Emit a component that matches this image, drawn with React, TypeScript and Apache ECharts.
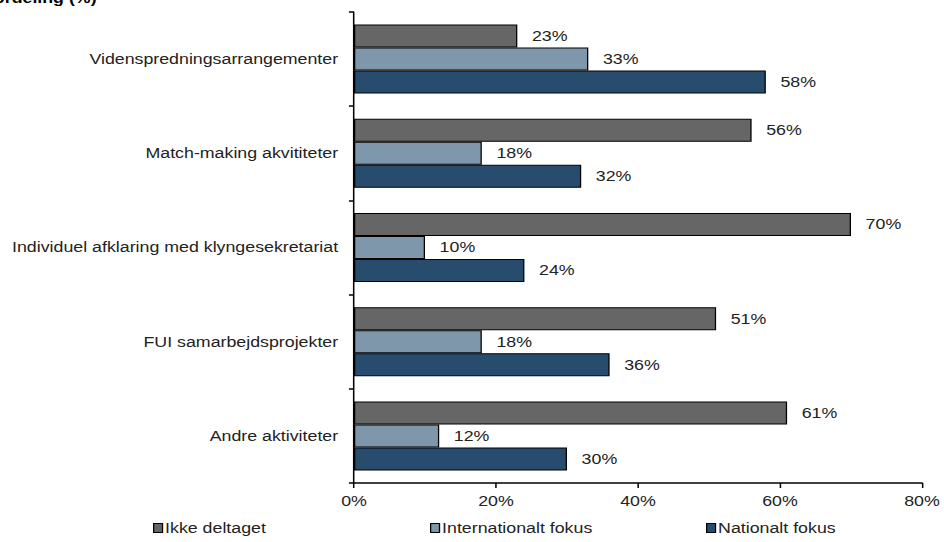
import React, { useEffect, useRef } from "react";
import * as echarts from "echarts";

const categories = [
  "Videnspredningsarrangementer",
  "Match-making akvititeter",
  "Individuel afklaring med klyngesekretariat",
  "FUI samarbejdsprojekter",
  "Andre aktiviteter",
];
const seriesNames = ["Ikke deltaget", "Internationalt fokus", "Nationalt fokus"];
const ikkeDeltaget = [23, 56, 70, 51, 61];
const internationaltFokus = [33, 18, 10, 18, 12];
const nationaltFokus = [58, 32, 24, 36, 30];
const xTicks = [0, 20, 40, 60, 80];
const colors = ["#666666", "#7F97AB", "#284C6E"];

// The reference is horizontally stretched; draw narrower and stretch.
const SX = 1.27;
const W = 944 / SX;

export default function App() {
  const ref = useRef<HTMLDivElement>(null);
  useEffect(() => {
    if (!ref.current) return;
    const chart = echarts.init(ref.current, null, { renderer: "svg" });
    const font = "Liberation Sans, Arial, sans-serif";
    const data = [ikkeDeltaget, internationaltFokus, nationaltFokus];
    const legendLefts = [153 / SX, 430 / SX, 706 / SX];
    chart.setOption({
      animation: false,
      textStyle: { fontFamily: font },
      grid: { left: 354 / SX, right: 19 / SX, top: 12, bottom: 59 },
      xAxis: {
        type: "value",
        min: xTicks[0],
        max: xTicks[xTicks.length - 1],
        interval: 20,
        axisLine: { show: true, lineStyle: { color: "#000", width: 1.5 } },
        axisTick: { show: true, length: 5, lineStyle: { color: "#000", width: 1.2 } },
        splitLine: { show: false },
        axisLabel: {
          formatter: (v: number) => v + "%",
          color: "#222",
          fontSize: 14,
          fontFamily: font,
          margin: 11,
        },
      },
      yAxis: {
        type: "category",
        data: categories,
        inverse: true,
        axisLine: { show: true, lineStyle: { color: "#000", width: 1.2 } },
        axisTick: { show: true, length: 4, lineStyle: { color: "#000", width: 1.5 } },
        axisLabel: { color: "#222", fontSize: 14, fontFamily: font, margin: 12.5 },
      },
      legend: seriesNames.map((n, i) => ({
        data: [n],
        left: legendLefts[i],
        top: 521,
        itemWidth: 7,
        itemHeight: 9,
        itemGap: 2,
        padding: 0,
        icon: "rect",
        textStyle: { fontSize: 14, color: "#222", fontFamily: font, padding: [0, 0, 0, -3] },
        itemStyle: { borderColor: "#000", borderWidth: 1 },
      })),
      graphic: [
        {
          type: "text",
          left: -17 / SX,
          top: -9,
          style: {
            text: "Fordeling (%)",
            font: "bold 14px Liberation Sans, Arial, sans-serif",
            fill: "#000",
          },
        },
      ],
      series: seriesNames.map((n, i) => ({
        name: n,
        type: "bar",
        data: data[i],
        barWidth: 23,
        barGap: "0%",
        itemStyle: { color: colors[i], borderColor: "#000", borderWidth: 1 },
        label: {
          show: true,
          position: "right",
          distance: 11.5,
          formatter: (p: any) => p.value + "%",
          color: "#222",
          fontSize: 14,
          fontFamily: font,
        },
      })),
    });
    return () => chart.dispose();
  }, []);
  return (
    <div style={{ position: "absolute", left: 0, top: 0, width: 944, height: 542, overflow: "hidden", background: "#fff" }}>
      <div
        ref={ref}
        style={{
          width: W,
          height: 542,
          transform: `scaleX(${SX})`,
          transformOrigin: "0 0",
        }}
      />
    </div>
  );
}
